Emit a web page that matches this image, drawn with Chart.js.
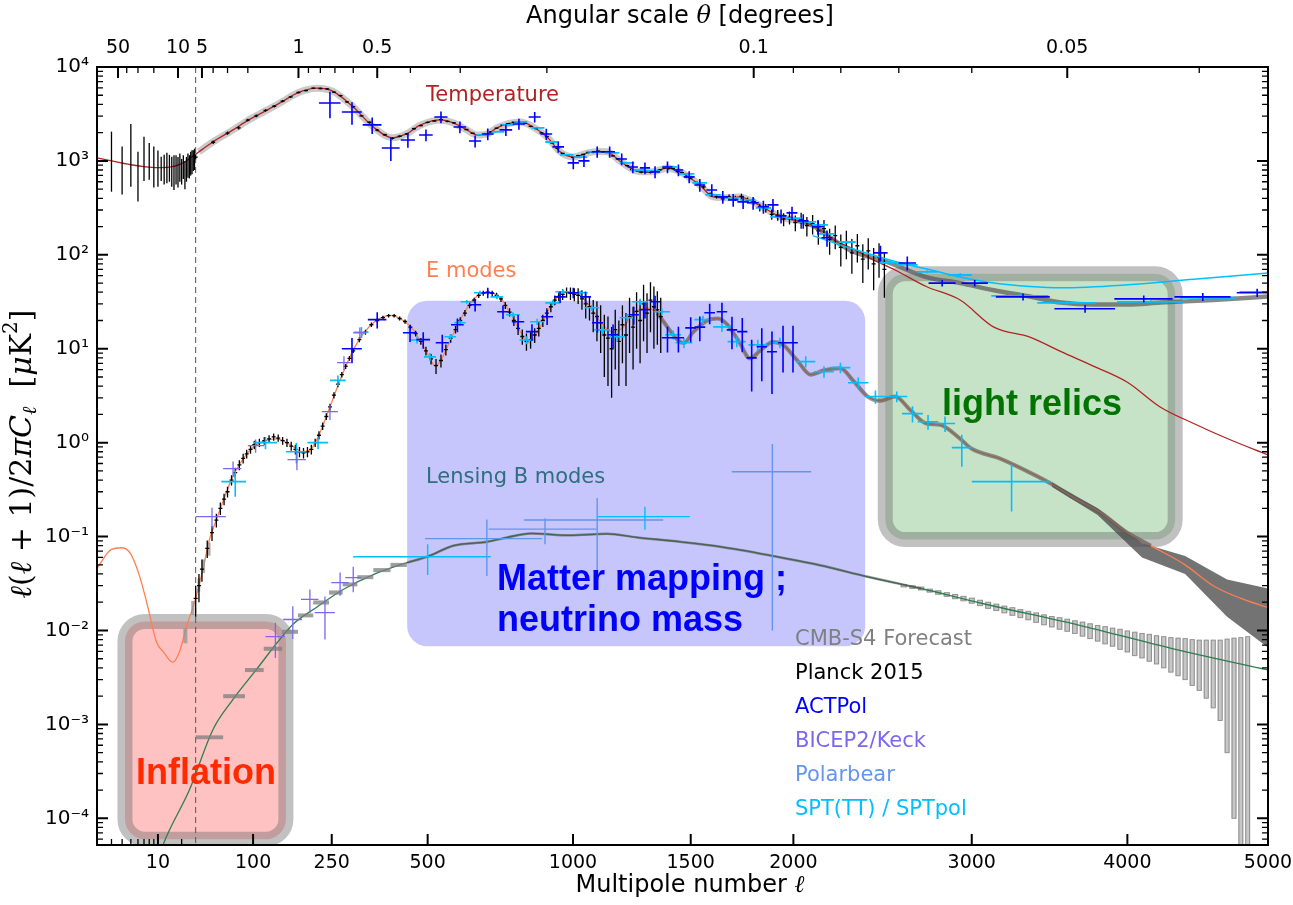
<!DOCTYPE html>
<html>
<head>
<meta charset="utf-8">
<title>CMB power spectra</title>
<script src="https://cdn.jsdelivr.net/npm/chart.js@4.4.1/dist/chart.umd.min.js"></script>
<style>
  html, body { margin: 0; padding: 0; background: #fff; }
  #wrap { width: 1293px; height: 905px; }
</style>
</head>
<body>
<div id="wrap"><canvas id="cmbChart" width="1293" height="905"></canvas></div>
<script>
// ---------- theory spectra: multipole ell, D_ell [uK^2] ----------
const ttEll = [2, 3, 5, 7, 10, 14, 19, 25, 33, 45, 67, 90, 123, 150, 169, 190, 218, 253, 300, 350,
  400, 440, 478, 538, 578, 620, 654, 690, 721, 760, 804, 849, 901, 950, 1001, 1057, 1100, 1136, 1189, 1230,
  1275, 1331, 1395, 1452, 1500, 1542, 1604, 1673, 1732, 1797, 1870, 1931, 2000, 2075, 2139, 2210, 2320, 2420, 2550, 2730,
  2930, 3135, 3360, 3560, 3775, 4000, 4225, 4460, 4705, 5000];
const ttD = [1080, 1000, 910, 870, 850, 860, 920, 1050, 1250, 1600, 2140, 2700, 3490, 4300, 5000, 5600, 5950, 5500, 3750, 2300,
  1760, 1950, 2400, 2730, 2540, 2150, 1890, 1950, 2245, 2500, 2600, 2300, 1800, 1250, 1100, 1215, 1260, 1250, 1000, 850,
  765, 765, 843, 765, 650, 555, 414, 405, 414, 366, 300, 254, 235, 215, 185, 145, 115, 90, 69, 46,
  33, 17, 13.3, 9.3, 6.5, 4.4, 2.4, 1.6, 1.1, 0.74];

const eeEll = [2, 3, 4, 5, 6.3, 7.7, 9.7, 11.6, 15.5, 19, 23, 28, 33, 37, 42, 48, 55, 67, 89, 111,
  140, 164, 189, 205, 224, 246, 276, 310, 350, 394, 430, 459, 498, 522, 540, 559, 599, 641, 688, 732,
  767, 804, 831, 875, 922, 976, 1028, 1068, 1108, 1161, 1204, 1248, 1306, 1350, 1395, 1441, 1469, 1511, 1577, 1625,
  1673, 1732, 1781, 1831, 1896, 1947, 2020, 2089, 2160, 2248, 2316, 2397, 2468, 2550, 2640, 2730, 2810, 2930, 3000, 3170,
  3360, 3490, 3640, 3820, 4000, 4160, 4400, 4600, 4800, 5000];
const eeD = [0.046, 0.073, 0.076, 0.065, 0.037, 0.018, 0.0074, 0.006, 0.0046, 0.0061, 0.011, 0.018, 0.03, 0.047, 0.095, 0.15, 0.24, 0.44, 0.77, 1.0,
  1.1, 0.95, 0.8, 0.85, 1.27, 2.4, 5.6, 11.6, 18.9, 22.7, 20, 15.8, 9.1, 6.6, 7.5, 10.4, 20, 33, 40, 35,
  24, 15, 11.5, 17, 31, 40, 37, 28, 19.5, 15, 17, 24, 27, 24, 17, 12.4, 11.5, 15, 20, 21,
  18, 11.5, 7.9, 9.5, 11.8, 11, 7.5, 5.3, 5.9, 6.2, 4.6, 3.1, 2.8, 3.1, 2.2, 1.6, 1.55, 1.1, 0.86, 0.68,
  0.48, 0.37, 0.26, 0.18, 0.11, 0.08, 0.05, 0.03, 0.022, 0.0176];

const bbEll = [10, 11.6, 25, 45, 67, 106, 140, 169, 218, 276, 350, 441, 498, 578, 688, 757, 840, 988, 1136, 1262,
  1452, 1637, 1882, 2139, 2397, 2700, 3058, 3687, 4370, 5000];
const bbD = [3.5e-5, 5.2e-5, 2.0e-4, 8.9e-4, 1.85e-3, 3.9e-3, 7.4e-3, 0.0116, 0.0178, 0.0273, 0.0394, 0.0528, 0.061, 0.08, 0.088, 0.098, 0.108, 0.103, 0.107, 0.098,
  0.088, 0.078, 0.063, 0.0495, 0.0373, 0.028, 0.0195, 0.0113, 0.0061, 0.0038];

// ---------- CMB-S4 forecast ----------
const s4TTEll = [2300, 2520, 2730, 2930, 3135, 3360, 3560, 3775, 4000, 4225, 4600, 5000];
const s4TTD = [112, 82, 58, 50, 42, 36, 31, 29.5, 29.5, 31, 33, 36];
const s4EEBandEll = [3500, 3800, 4100, 4400, 4700, 5000];
const s4EEBandHi = [0.38, 0.2, 0.085, 0.062, 0.035, 0.028];
const s4EEBandLo = [0.34, 0.17, 0.06, 0.04, 0.014, 0.0066];
const s4EELowEll = [22.3, 27.7, 33, 37, 41.4];
const s4EELowD = [0.0089, 0.0176, 0.031, 0.049, 0.0745];
const s4EELowErr = [0.0016, 0.003, 0.005, 0.008, 0.012];
const s4BBLowLo = [30, 55, 85, 117, 149, 179, 210, 244, 275, 310, 350, 395];
const s4BBLowHi = [55, 85, 117, 149, 179, 210, 244, 275, 310, 350, 395, 440];
const s4BBLowD = [7.3e-4, 0.002, 0.0038, 0.0064, 0.0097, 0.0145, 0.0199, 0.0254, 0.031, 0.037, 0.044, 0.05];
const s4BBLowErr = [3.5e-5, 1e-4, 1.9e-4, 3.2e-4, 4.8e-4, 7e-4, 1e-3, 1.3e-3, 1.5e-3, 1.8e-3, 2.2e-3, 2.5e-3];
const s4BBHighEll = [2600, 2650, 2700, 2750, 2800, 2850, 2900, 2950, 3000, 3050,
  3100, 3150, 3200, 3250, 3300, 3350, 3400, 3450, 3500, 3550,
  3600, 3650, 3700, 3750, 3800, 3850, 3900, 3950, 4000, 4050,
  4100, 4150, 4200, 4250, 4300, 4350, 4400, 4450, 4500, 4550,
  4600, 4650, 4700, 4750, 4800, 4850];
const s4BBHighD = [0.030, 0.029, 0.028, 0.0266, 0.0254, 0.0242, 0.023, 0.0219, 0.0208, 0.0197,
  0.0186, 0.0177, 0.0168, 0.016, 0.0152, 0.0145, 0.0138, 0.0131, 0.0125, 0.012,
  0.0115, 0.011, 0.0105, 0.01, 0.0095, 0.0091, 0.0087, 0.0083, 0.0079, 0.0075,
  0.0072, 0.0069, 0.0066, 0.0063, 0.006, 0.0058, 0.0056, 0.0053, 0.0051, 0.0049,
  0.0047, 0.0045, 0.0043, 0.0042, 0.004, 0.0039];
const s4BBHighErr = [0.0009, 0.0009, 0.001, 0.001, 0.0011, 0.0011, 0.0012, 0.0012, 0.0013, 0.0013,
  0.0014, 0.0014, 0.0014, 0.0015, 0.0015, 0.0015, 0.0016, 0.0016, 0.0016, 0.0017,
  0.0017, 0.0017, 0.0018, 0.0018, 0.0018, 0.0019, 0.0019, 0.002, 0.002, 0.0021,
  0.0021, 0.0022, 0.0022, 0.0023, 0.0024, 0.0025, 0.0026, 0.0027, 0.0028, 0.003,
  0.0032, 0.0034, 0.0038, 0.0041, 0.0044, 0.0047];

// ---------- Planck 2015 ----------
const planckLowEll = [3, 4, 5, 6, 7, 8, 9, 10, 11, 12, 13, 14, 15, 16, 17, 18, 19, 20, 21, 22, 23, 24, 25, 26, 27, 28, 29];
const planckLowD = [1260, 930, 1500, 810, 1210, 1090, 970, 910, 860, 860, 900, 880, 820, 820, 855, 810, 900, 805, 895, 750, 850, 930, 900, 975, 1010, 1040, 1075];
const planckLowErr = [790, 490, 970, 440, 600, 460, 450, 380, 250, 300, 320, 280, 290, 330, 295, 290, 300, 245, 255, 250, 250, 270, 250, 275, 290, 260, 275];

const planckTTEll = [30, 45, 60, 75, 90, 105, 120, 135, 150, 165,
  180, 195, 210, 225, 240, 255, 270, 285, 300, 320,
  340, 360, 380, 400, 420, 440, 460, 480, 500, 520,
  540, 560, 580, 600, 620, 640, 660, 680, 700, 720,
  740, 760, 780, 800, 820, 840, 860, 880, 900, 920,
  940, 960, 980, 1000, 1020, 1040, 1060, 1080, 1100, 1120,
  1140, 1160, 1180, 1200, 1220, 1240, 1260, 1280, 1300, 1320,
  1340, 1360, 1380, 1400, 1420, 1440, 1460, 1480, 1500, 1530,
  1560, 1590, 1620, 1650, 1680, 1710, 1740, 1770, 1800, 1830,
  1860, 1890, 1920, 1950, 1980, 2010, 2040, 2070, 2100, 2130,
  2160, 2190, 2220, 2250, 2280, 2310, 2340, 2370, 2400, 2430,
  2460, 2490];
const planckTTD = [1100, 1580, 1980, 2250, 2720, 3020, 3450, 3820, 4330, 4800,
  5350, 5600, 5950, 5900, 5850, 5400, 4950, 4250, 3780, 3020,
  2580, 2130, 1900, 1740, 1830, 1940, 2200, 2380, 2570, 2660,
  2750, 2640, 2540, 2310, 2160, 1970, 1900, 1910, 2040, 2230,
  2410, 2490, 2580, 2590, 2520, 2330, 2210, 1990, 1810, 1550,
  1360, 1200, 1150, 1090, 1140, 1170, 1230, 1230, 1270, 1250,
  1250, 1130, 1050, 950, 890, 810, 790, 760, 765, 755,
  790, 800, 845, 830, 830, 770, 750, 680, 660, 580,
  530, 440, 420, 395, 415, 400, 420, 380, 370, 320,
  315, 270, 265, 240, 250, 220, 235, 205, 215, 180,
  190, 145, 160, 120, 135, 105, 125, 90, 110, 80,
  95, 70];
const planckTTErr = [60, 70, 80, 85, 95, 100, 110, 115, 120, 125,
  130, 130, 135, 135, 130, 125, 115, 105, 95, 70,
  60, 55, 50, 45, 45, 48, 50, 52, 55, 55,
  55, 52, 50, 45, 42, 40, 38, 38, 40, 42,
  45, 45, 45, 45, 45, 42, 40, 36, 33, 30,
  27, 25, 24, 23, 24, 24, 25, 25, 26, 26,
  26, 24, 23, 21, 20, 19, 19, 19, 19, 19,
  20, 21, 22, 22, 22, 22, 22, 21, 21, 22,
  22, 22, 22, 23, 24, 25, 27, 28, 30, 30,
  32, 33, 35, 38, 40, 42, 45, 48, 50, 52,
  45, 45, 45, 45, 45, 42, 42, 40, 40, 38,
  38, 35];

const planckEEEll = [30, 33, 36, 40, 44, 48, 52, 56, 60, 65,
  70, 76, 82, 88, 95, 102, 110, 118, 126, 134,
  142, 150, 158, 166, 174, 182, 190, 198, 206, 214,
  222, 230, 238, 246, 255, 264, 273, 282, 291, 300,
  315, 330, 345, 360, 375, 390, 405, 420, 435, 450,
  465, 480, 495, 510, 525, 540, 555, 570, 585, 600,
  615, 630, 645, 660, 675, 690, 705, 720, 735, 750,
  765, 780, 795, 810, 825, 840, 855, 870, 885, 900,
  915, 930, 945, 960, 975, 990, 1005, 1020, 1035, 1050,
  1065, 1080, 1095, 1110, 1125, 1140, 1155, 1170, 1185, 1200,
  1215, 1230, 1245, 1260, 1275, 1290, 1305, 1320, 1335, 1350,
  1365];
const planckEED = [0.022, 0.03, 0.045, 0.075, 0.11, 0.15, 0.2, 0.25, 0.3, 0.4,
  0.48, 0.58, 0.68, 0.76, 0.85, 0.95, 1.0, 1.05, 1.1, 1.15,
  1.12, 1.05, 1.0, 0.92, 0.85, 0.8, 0.78, 0.8, 0.85, 1.0,
  1.2, 1.5, 1.9, 2.4, 3.2, 4.2, 5.3, 6.5, 7.9, 9.5,
  12.5, 15, 18, 20, 21.5, 22.5, 22.5, 21, 19.5, 17,
  14.5, 12, 9.5, 7.8, 6.6, 7.5, 9.8, 13, 16, 20,
  24, 29, 33, 37, 39, 40, 39, 37, 34, 29,
  24.5, 20, 16.5, 13.5, 12, 12.5, 14, 16.5, 20, 24,
  28, 33, 36, 38, 40, 39, 38, 37, 34, 30,
  28, 24, 22, 19, 14, 13, 10, 16, 12, 18,
  14, 22, 17, 25, 20, 30, 24, 33, 28, 26,
  22];
const planckEEErr = [0.008, 0.01, 0.012, 0.016, 0.02, 0.025, 0.03, 0.035, 0.04, 0.05,
  0.06, 0.07, 0.08, 0.08, 0.09, 0.1, 0.1, 0.1, 0.1, 0.1,
  0.1, 0.1, 0.1, 0.1, 0.1, 0.1, 0.1, 0.1, 0.1, 0.1,
  0.12, 0.14, 0.16, 0.2, 0.25, 0.3, 0.35, 0.4, 0.45, 0.5,
  0.8, 0.9, 1, 1, 1, 1, 1, 1, 1, 1,
  1, 1, 1, 1, 1.2, 1.2, 1.3, 1.4, 1.5, 1.6,
  1.8, 2, 2, 2.2, 2.4, 2.5, 2.5, 2.5, 2.5, 2.5,
  2.5, 2.5, 2.5, 2.5, 2.5, 2.5, 2.5, 3, 3, 3,
  3.5, 4, 4, 5, 5, 6, 6, 7, 8, 9,
  8, 9, 10, 10, 9, 9, 7, 10, 8, 11,
  10, 13, 11, 15, 13, 18, 15, 18, 18, 15,
  13];

// ---------- ACTPol ----------
const actTTEll = [246, 297, 347, 396, 443, 495, 540, 599, 648, 690,
  752, 798, 855, 898, 943, 1001, 1043, 1096, 1147, 1197,
  1244, 1296, 1340, 1395, 1444, 1493, 1542, 1598, 1650, 1700,
  1748, 1797, 1848, 1896, 1937, 1993, 2051, 2128, 2176, 2468,
  2620, 2823, 3018, 3317, 3717, 4112, 4525, 4920];
const actTTD = [4140, 3320, 2420, 1375, 1670, 1890, 2940, 2300, 1630, 1935,
  2140, 2475, 2940, 1935, 1410, 953, 1000, 1250, 1250, 1050,
  863, 843, 765, 863, 800, 677, 555, 490, 414, 385,
  366, 358, 325, 340, 260, 280, 230, 199, 152, 105,
  82, 50, 50, 35.7, 26.7, 34, 35.7, 39.5];
const actTTDl = [24, 24, 24, 24, 20, 20, 20, 20, 20, 20,
  22, 22, 22, 22, 22, 22, 22, 22, 22, 22,
  22, 22, 22, 22, 22, 25, 25, 25, 25, 25,
  28, 28, 28, 28, 28, 28, 28, 30, 30, 40,
  50, 80, 80, 170, 200, 200, 200, 150];
const actTTErr = [1300, 900, 480, 380, 290, 270, 420, 330, 240, 280,
  300, 330, 380, 260, 190, 140, 140, 170, 170, 150,
  125, 120, 110, 125, 115, 100, 85, 75, 65, 60,
  58, 56, 52, 54, 44, 46, 40, 35, 30, 20,
  14, 4, 4, 3, 2.5, 3, 3.5, 4];

const actEEEll = [297, 360, 449, 487, 544, 591, 648, 690, 742, 795,
  845, 901, 950, 1001, 1049, 1097, 1161, 1248, 1296, 1340,
  1395, 1444, 1500, 1542, 1588, 1646, 1694, 1744, 1790, 1840,
  1891, 1947, 1998];
const actEED = [10, 20.4, 14.8, 12.5, 11.6, 18, 29.4, 39.5, 24.8, 19.4,
  15.2, 21.9, 35.7, 39.5, 35.7, 18.9, 14.1, 23, 26, 31.6,
  13.1, 13.1, 16.7, 17, 24.2, 24.8, 15.9, 15.2, 8.0, 10.5,
  9.3, 11.6, 11.6];
const actEEDl = [24, 24, 20, 20, 20, 20, 20, 20, 20, 22,
  22, 22, 22, 22, 22, 22, 22, 22, 22, 22,
  25, 25, 25, 25, 25, 25, 25, 25, 25, 25,
  25, 25, 25];
const actEEErr = [3, 4, 3, 2.5, 2.5, 3, 4.5, 5, 4, 3.5,
  3, 4, 5, 5, 5, 4, 4, 5, 5, 5,
  4, 4, 5, 5, 6, 6, 6, 6, 4.5, 6,
  6, 6, 6];

// ---------- BICEP2/Keck ----------
const bkEEEll = [44, 67, 104, 177, 246, 278, 316];
const bkEED = [0.163, 0.53, 0.93, 0.66, 2.14, 7.1, 14.8];
const bkEEDl = [14, 12, 14, 18, 18, 16, 16];
const bkEEErr = [0.04, 0.1, 0.15, 0.15, 0.4, 1.2, 2];
const bkBBEll = [137, 169, 203, 235, 269, 300];
const bkBBD = [0.0086, 0.0131, 0.0214, 0.0155, 0.0324, 0.0366];
const bkBBDl = [17, 18, 18, 22, 20, 19];
const bkBBErr = [0.0035, 0.005, 0.006, 0.0075, 0.009, 0.011];

// ---------- Polarbear ----------
const pbBBEll = [687, 893, 1096, 1893];
const pbBBD = [0.095, 0.12, 0.15, 0.49];
const pbBBDl = [195, 200, 280, 200];
const pbBBErr = [0.057, 0.037, 0.108, 0.48];

// ---------- SPT / SPTpol ----------
const sptTTEll = [674, 725, 760, 804, 867, 920, 976, 1028, 1085, 1157,
  1220, 1266, 1331, 1405, 1483, 1542, 1604, 1694, 1770, 1848,
  1922, 2000, 2077, 2139, 2176, 2285, 2522, 2620, 2736, 2930,
  3299, 3597, 4160, 4565, 4920];
const sptTTD = [1890, 2040, 2420, 2600, 2245, 1590, 1160, 1100, 1250, 1215,
  953, 800, 783, 863, 728, 584, 435, 404, 385, 316,
  254, 246, 224, 208, 167, 137, 82, 78, 66, 61,
  36.6, 30.8, 31.6, 34.9, 40.4];
const sptTTDl = [22, 22, 22, 24, 24, 26, 26, 28, 28, 30,
  30, 30, 32, 32, 34, 34, 36, 36, 38, 38,
  40, 40, 42, 42, 44, 46, 60, 60, 60, 70,
  180, 190, 230, 200, 130];
const sptTTErr = [40, 40, 45, 45, 40, 30, 22, 20, 22, 22,
  18, 15, 15, 16, 14, 11, 9, 8, 8, 7,
  6, 6, 5, 5, 4, 4, 3, 3, 2.5, 2.5,
  1.5, 1.2, 1.3, 1.5, 2];
const sptModelEll = [2100, 2300, 2550, 2800, 2930, 3135, 3360, 3560, 4000, 4460, 5000];
const sptModelD = [160, 118, 85, 66, 58, 50, 46, 44.6, 48, 55, 64];

const sptEEEll = [70, 120, 176, 220, 264, 320, 469, 507, 569, 599,
  621, 664, 721, 777, 826, 864, 922, 960, 1028, 1075,
  1116, 1178, 1220, 1275, 1370, 1420, 1469, 1557, 1646, 1717,
  1820, 1931, 2064, 2160, 2248, 2345, 2440, 2560, 2650, 2740,
  2840, 2940, 3245];
const sptEED = [0.385, 1.0, 0.8, 1.0, 4.6, 15, 12.4, 8.2, 13.4, 18.9,
  31.6, 39.5, 35.7, 23, 12.4, 19.4, 30.8, 40.4, 39.5, 27.3,
  15.9, 13.4, 21.4, 31.6, 24.8, 14.1, 11.6, 20.4, 17.1, 11.9,
  11, 11.6, 7.3, 5.7, 6.3, 4.35, 3.1, 3.1, 2.04, 1.67,
  1.6, 0.885, 0.385];
const sptEEDl = [17, 20, 20, 22, 18, 18, 18, 18, 18, 18,
  20, 20, 22, 24, 26, 26, 28, 28, 30, 30,
  32, 32, 32, 34, 36, 36, 38, 40, 42, 44,
  46, 48, 50, 52, 54, 56, 58, 60, 60, 60,
  60, 60, 245];
const sptEEErr = [0.12, 0.15, 0.2, 0.15, 0.6, 2, 1, 0.8, 1, 1.2,
  1.5, 2, 2, 1.5, 1.2, 1.5, 2, 2, 2, 2,
  1.5, 1.5, 2, 2.5, 2, 1.5, 1.5, 2, 2, 1.5,
  1.5, 1.5, 1, 0.8, 0.8, 0.6, 0.5, 0.4, 0.4, 0.3,
  0.3, 0.33, 0.2];
const sptBBEll = [500, 1296];
const sptBBD = [0.061, 0.163];
const sptBBDl = [200, 200];
const sptBBErr = [0.022, 0.045];

// ---------- science regions: [ell range], [D range] ----------
const inflationEll = [4.3, 156], inflationD = [6.0e-5, 0.0125];
const matterEll = [441, 2383], matterD = [0.0068, 32.4];
const relicsEll = [2495, 4330], relicsD = [0.093, 62.8];
const lowEllCut = 30;

// ---------- axis ticks ----------
const bottomTickEll = [10, 100, 250, 500, 1000, 1500, 2000, 3000, 4000, 5000];
const bottomMinorEll = [3, 4, 5, 6, 7, 8, 9, 20];
const topTickTheta = [50, 10, 5, 1, 0.5, 0.1, 0.05];
const topMinorTheta = [40, 30, 20, 4, 3, 2, 0.9, 0.8, 0.7, 0.6, 0.4, 0.3, 0.2, 0.09, 0.08, 0.07, 0.06, 0.04];
const yTickVals = [1e-4, 1e-3, 1e-2, 1e-1, 1, 10, 100, 1e3, 1e4];

// ---------- the stretched multipole axis ----------
// log-like below ell = 100, ell^0.6 above
const lowEll = [2, 3.6, 10, 18, 36, 100];
const lowU = [-7.2, -4.1, 1.8, 4.76, 8.3, 15.85];
function ellToU(l) {
  if (l >= 100) return Math.pow(l, 0.6);
  let i = 0;
  while (i < lowEll.length - 2 && l > lowEll[i + 1]) i++;
  const a = Math.log10(lowEll[i]), b = Math.log10(lowEll[i + 1]);
  return lowU[i] + (Math.log10(l) - a) / (b - a) * (lowU[i + 1] - lowU[i]);
}

function pts(ell, d) {
  return ell.map((l, i) => ({ x: ellToU(l), y: d[i] }));
}
function errPts(ell, d, dl, dd) {
  return ell.map((l, i) => {
    const w = Array.isArray(dl) ? dl[i] : dl;
    return {
      x: ellToU(l), y: d[i],
      xMin: ellToU(Math.max(l - w, 1.5)), xMax: ellToU(l + w),
      yMin: d[i] - dd[i], yMax: d[i] + dd[i]
    };
  });
}
function binPts(lo, hi, d, dd) {
  return lo.map((l, i) => {
    const c = Math.sqrt(l * hi[i]);
    return { x: ellToU(c), y: d[i], xMin: ellToU(l), xMax: ellToU(hi[i]), yMin: d[i] - dd[i], yMax: d[i] + dd[i] };
  });
}
function pick(ell, d, lo, hi) {
  const e = [], v = [];
  ell.forEach((l, i) => { if (l >= lo && l <= hi) { e.push(l); v.push(d[i]); } });
  return { e, v };
}

const s4TTLow = pick(ttEll, ttD, 30, 2000);
const s4TTHighBase = pick(ttEll, ttD, 2000, 2299);
const s4EELine = pick(eeEll, eeD, 1350, 4160);
const s4BBLine = pick(bbEll, bbD, 441, 2700);

function lineSet(label, data, color, width, order, extra) {
  return Object.assign({
    label, data, borderColor: color, borderWidth: width, pointRadius: 0, pointHitRadius: 0,
    fill: false, cubicInterpolationMode: 'monotone', order
  }, extra || {});
}
function errSet(label, data, bars, order) {
  return { label, data, showLine: false, pointRadius: 0, pointHitRadius: 0, errorBars: bars, order };
}

const datasets = [
  errSet('S4 BB forecast', errPts(s4BBHighEll, s4BBHighD, 18, s4BBHighErr),
    { style: 'bar', color: 'rgba(120,120,120,0.75)', fill: 'rgba(175,175,175,0.7)', width: 1 }, 95),
  lineSet('S4 EE band hi', pts(s4EEBandEll, s4EEBandHi), 'rgba(0,0,0,0)', 0, 94, { cubicInterpolationMode: 'default', tension: 0 }),
  lineSet('S4 EE band lo', pts(s4EEBandEll, s4EEBandLo), 'rgba(0,0,0,0)', 0, 94,
    { cubicInterpolationMode: 'default', tension: 0, fill: '-1', backgroundColor: 'rgba(75,75,75,0.78)' }),
  lineSet('S4 TT low', pts(s4TTLow.e, s4TTLow.v), 'rgba(150,150,150,0.5)', 7, 86),
  lineSet('S4 TT', pts(s4TTHighBase.e.concat(s4TTEll), s4TTHighBase.v.concat(s4TTD)), 'rgba(85,85,85,0.7)', 4.5, 85),
  lineSet('TT theory', pts(ttEll, ttD), '#b22222', 1.3, 80),
  lineSet('EE theory', pts(eeEll, eeD), '#ff7f50', 1.3, 80),
  lineSet('BB theory', pts(bbEll, bbD), '#2f7d4f', 1.3, 80),
  lineSet('S4 EE', pts(s4EELine.e, s4EELine.v), 'rgba(85,85,85,0.62)', 4, 75),
  lineSet('S4 BB', pts(s4BBLine.e, s4BBLine.v), 'rgba(85,85,85,0.6)', 2.5, 75),
  errSet('S4 EE low', errPts(s4EELowEll, s4EELowD, 1.3, s4EELowErr),
    { style: 'block', fill: 'rgba(150,150,150,0.8)' }, 70),
  errSet('S4 BB low', binPts(s4BBLowLo, s4BBLowHi, s4BBLowD, s4BBLowErr),
    { style: 'block', fill: 'rgba(125,125,125,0.75)' }, 70),
  errSet('Planck low TT', errPts(planckLowEll, planckLowD, 0, planckLowErr), { style: 'vline', color: '#000', width: 1.3 }, 60),
  errSet('Planck TT', errPts(planckTTEll, planckTTD, 0, planckTTErr), { style: 'planck', color: '#000', width: 1.3 }, 60),
  errSet('Planck EE', errPts(planckEEEll, planckEED, 0, planckEEErr), { style: 'planck', color: '#000', width: 1.3 }, 60),
  lineSet('SPT model', pts(sptModelEll, sptModelD), '#00bfff', 1.5, 50),
  errSet('SPT TT', errPts(sptTTEll, sptTTD, sptTTDl, sptTTErr), { style: 'cross', color: '#00bfff', width: 1.8 }, 50),
  errSet('SPTpol EE', errPts(sptEEEll, sptEED, sptEEDl, sptEEErr), { style: 'cross', color: '#00bfff', width: 1.6 }, 50),
  errSet('SPTpol BB', errPts(sptBBEll, sptBBD, sptBBDl, sptBBErr), { style: 'cross', color: '#00bfff', width: 1.4 }, 50),
  errSet('BICEP2/Keck EE', errPts(bkEEEll, bkEED, bkEEDl, bkEEErr), { style: 'cross', color: '#7b68ee', width: 1.3 }, 45),
  errSet('BICEP2/Keck BB', errPts(bkBBEll, bkBBD, bkBBDl, bkBBErr), { style: 'cross', color: '#7b68ee', width: 1.3 }, 45),
  errSet('Polarbear BB', errPts(pbBBEll, pbBBD, pbBBDl, pbBBErr), { style: 'cross', color: '#6495ed', width: 1.4 }, 42),
  errSet('ACTPol TT', errPts(actTTEll, actTTD, actTTDl, actTTErr), { style: 'cross', color: '#0000ff', width: 1.6 }, 40),
  errSet('ACTPol EE', errPts(actEEEll, actEED, actEEDl, actEEErr), { style: 'cross', color: '#0000ff', width: 1.6 }, 40)
];

// ---------- plugins ----------
const errorBarPlugin = {
  id: 'errorBars',
  afterDatasetDraw(chart, args) {
    const ds = chart.data.datasets[args.index];
    const eb = ds.errorBars;
    if (!eb) return;
    const { ctx, chartArea: a } = chart;
    const xs = chart.scales.x, ys = chart.scales.y;
    ctx.save();
    ctx.beginPath();
    ctx.rect(a.left, a.top, a.right - a.left, a.bottom - a.top);
    ctx.clip();
    ctx.lineWidth = eb.width || 1;
    ctx.strokeStyle = eb.color || '#000';
    ctx.fillStyle = eb.fill || eb.color;
    for (const p of ds.data) {
      const px = xs.getPixelForValue(p.x), py = ys.getPixelForValue(p.y);
      const top = ys.getPixelForValue(p.yMax);
      const bot = p.yMin > 0 ? ys.getPixelForValue(p.yMin) : a.bottom + 2;
      if (eb.style === 'bar' || eb.style === 'block') {
        const l = xs.getPixelForValue(p.xMin), r = xs.getPixelForValue(p.xMax);
        ctx.fillRect(l, top, r - l, bot - top);
        if (eb.style === 'bar') ctx.strokeRect(l + 0.5, top, r - l - 1, bot - top);
        continue;
      }
      ctx.beginPath();
      ctx.moveTo(px, top);
      ctx.lineTo(px, bot);
      if (eb.style === 'cross') {
        ctx.moveTo(xs.getPixelForValue(p.xMin), py);
        ctx.lineTo(xs.getPixelForValue(p.xMax), py);
      } else if (eb.style === 'planck') {
        ctx.moveTo(px - 2, py);
        ctx.lineTo(px + 2, py);
      }
      ctx.stroke();
    }
    ctx.restore();
  }
};

function roundedRect(ctx, x, y, w, h, r) {
  ctx.beginPath();
  ctx.moveTo(x + r, y);
  ctx.arcTo(x + w, y, x + w, y + h, r);
  ctx.arcTo(x + w, y + h, x, y + h, r);
  ctx.arcTo(x, y + h, x, y, r);
  ctx.arcTo(x, y, x + w, y, r);
  ctx.closePath();
}

const regionPlugin = {
  id: 'regions',
  beforeDatasetsDraw(chart) {
    const { ctx, chartArea: a } = chart;
    const xs = chart.scales.x, ys = chart.scales.y;
    const boxes = [
      { ell: inflationEll, d: inflationD, fill: 'rgba(255,0,0,0.24)', ring: 'rgba(100,100,100,0.4)' },
      { ell: matterEll, d: matterD, fill: 'rgba(100,100,250,0.37)', ring: null },
      { ell: relicsEll, d: relicsD, fill: 'rgba(0,128,0,0.22)', ring: 'rgba(100,100,100,0.4)' }
    ];
    ctx.save();
    ctx.beginPath();
    ctx.rect(a.left, a.top, a.right - a.left, a.bottom - a.top);
    ctx.clip();
    for (const b of boxes) {
      const l = xs.getPixelForValue(ellToU(b.ell[0])), r = xs.getPixelForValue(ellToU(b.ell[1]));
      const t = ys.getPixelForValue(b.d[1]), btm = ys.getPixelForValue(b.d[0]);
      roundedRect(ctx, l, t, r - l, btm - t, 20);
      ctx.fillStyle = b.fill;
      ctx.fill();
      if (b.ring) {
        ctx.lineWidth = 15;
        ctx.strokeStyle = b.ring;
        ctx.stroke();
      }
    }
    const cx = xs.getPixelForValue(ellToU(lowEllCut));
    ctx.setLineDash([6, 4]);
    ctx.lineWidth = 1;
    ctx.strokeStyle = '#555';
    ctx.beginPath();
    ctx.moveTo(cx, a.top);
    ctx.lineTo(cx, a.bottom);
    ctx.stroke();
    ctx.restore();
  }
};

function drawRich(ctx, parts, x, y) {
  let w = 0;
  parts.forEach(p => { ctx.font = p.font; w += ctx.measureText(p.text).width; });
  let cx = x - w / 2;
  parts.forEach(p => {
    ctx.font = p.font;
    ctx.fillText(p.text, cx, y + (p.dy || 0));
    cx += ctx.measureText(p.text).width;
  });
}

const textPlugin = {
  id: 'texts',
  afterDatasetsDraw(chart) {
    const ctx = chart.ctx;
    ctx.save();
    ctx.textBaseline = 'middle';
    ctx.textAlign = 'left';
    ctx.font = '21px "DejaVu Sans"';
    ctx.fillStyle = '#b22222';
    ctx.fillText('Temperature', 426, 96);
    ctx.fillStyle = '#ff7f50';
    ctx.fillText('E modes', 426, 272);
    ctx.fillStyle = '#2f6e7e';
    ctx.fillText('Lensing B modes', 426, 478);

    ctx.font = 'bold 36px "Liberation Sans"';
    ctx.fillStyle = '#0000ff';
    ctx.fillText('Matter mapping ;', 497, 580);
    ctx.fillText('neutrino mass', 497, 621);
    ctx.fillStyle = '#007300';
    ctx.fillText('light relics', 942, 405);
    ctx.fillStyle = '#ff2a00';
    ctx.fillText('Inflation', 136, 774);

    const legendRows = [
      ['CMB-S4 Forecast', '#808080'], ['Planck 2015', '#000000'], ['ACTPol', '#0000ff'],
      ['BICEP2/Keck', '#7b68ee'], ['Polarbear', '#6495ed'], ['SPT(TT) / SPTpol', '#00bfff']
    ];
    ctx.font = '21px "DejaVu Sans"';
    legendRows.forEach((row, i) => {
      ctx.fillStyle = row[1];
      ctx.fillText(row[0], 795, 640 + i * 34);
    });
    ctx.restore();
  }
};

const framePlugin = {
  id: 'frame',
  afterDraw(chart) {
    const { ctx, chartArea: a } = chart;
    const xs = chart.scales.x, ys = chart.scales.y;
    ctx.save();
    ctx.strokeStyle = '#000';
    function xTick(px, len, w, fromTop) {
      ctx.lineWidth = w;
      ctx.beginPath();
      if (fromTop) { ctx.moveTo(px, a.top); ctx.lineTo(px, a.top + len); }
      else { ctx.moveTo(px, a.bottom); ctx.lineTo(px, a.bottom - len); }
      ctx.stroke();
    }
    function yTick(py, len, w) {
      ctx.lineWidth = w;
      ctx.beginPath();
      ctx.moveTo(a.left, py); ctx.lineTo(a.left + len, py);
      ctx.moveTo(a.right, py); ctx.lineTo(a.right - len, py);
      ctx.stroke();
    }
    bottomTickEll.forEach(l => xTick(xs.getPixelForValue(ellToU(l)), 11, 2, false));
    bottomMinorEll.forEach(l => xTick(xs.getPixelForValue(ellToU(l)), 6, 1.3, false));
    topTickTheta.forEach(t => xTick(xs.getPixelForValue(ellToU(180 / t)), 11, 2, true));
    topMinorTheta.forEach(t => xTick(xs.getPixelForValue(ellToU(180 / t)), 6, 1.3, true));
    for (let e = -5; e <= 4; e++) {
      const v = Math.pow(10, e);
      if (v >= ys.min && v <= ys.max) yTick(ys.getPixelForValue(v), 11, 2);
      for (let m = 2; m <= 9; m++) {
        const vm = m * v;
        if (vm >= ys.min && vm <= ys.max) yTick(ys.getPixelForValue(vm), 6, 1.3);
      }
    }
    ctx.lineWidth = 2;
    ctx.strokeRect(a.left, a.top, a.right - a.left, a.bottom - a.top);

    // axis titles
    ctx.fillStyle = '#000';
    ctx.textBaseline = 'middle';
    ctx.textAlign = 'left';
    const sans = '24px "DejaVu Sans"', math = 'italic 24px "DejaVu Serif"';
    drawRich(ctx, [{ text: 'Multipole number ', font: sans }, { text: 'ℓ', font: math }], 690, 886);
    drawRich(ctx, [{ text: 'Angular scale ', font: sans }, { text: 'θ', font: math }, { text: ' [degrees]', font: sans }], 680, 17);
    ctx.translate(23, 454);
    ctx.rotate(-Math.PI / 2);
    const rm = '30px "DejaVu Serif"', it = 'italic 30px "DejaVu Serif"';
    drawRich(ctx, [
      { text: 'ℓ', font: it }, { text: '(', font: rm }, { text: 'ℓ', font: it }, { text: ' + 1)/2', font: rm },
      { text: 'π', font: it }, { text: 'C', font: it }, { text: 'ℓ', font: 'italic 20px "DejaVu Serif"', dy: 8 },
      { text: '  [', font: rm }, { text: 'μ', font: it }, { text: 'K', font: rm },
      { text: '2', font: '20px "DejaVu Serif"', dy: -11 }, { text: ']', font: rm }
    ], 0, 0);
    ctx.restore();
  }
};

const supMap = { '-': '⁻', '0': '⁰', '1': '¹', '2': '²', '3': '³', '4': '⁴', '5': '⁵' };
function powLabel(v) {
  const e = String(Math.round(Math.log10(v)));
  return '10' + e.split('').map(c => supMap[c]).join('');
}

Chart.defaults.font.family = 'DejaVu Sans';
Chart.defaults.color = '#000';

const uMin = ellToU(2), uMax = ellToU(5000);

new Chart(document.getElementById('cmbChart'), {
  type: 'line',
  data: { datasets },
  options: {
    responsive: false,
    animation: false,
    events: [],
    layout: { padding: { left: 0, right: 25, top: 0, bottom: 0 } },
    plugins: { legend: { display: false }, tooltip: { enabled: false } },
    scales: {
      x: {
        type: 'linear', position: 'bottom', min: uMin, max: uMax,
        grid: { display: false, drawTicks: false }, border: { display: false },
        afterBuildTicks: s => { s.ticks = bottomTickEll.map(l => ({ value: ellToU(l) })); },
        afterFit: s => { s.height = 60; s.paddingLeft = 0; s.paddingRight = 0; },
        ticks: {
          autoSkip: false, maxRotation: 0, minRotation: 0, padding: 7,
          font: { size: 19 }, callback: (v, i) => String(bottomTickEll[i])
        }
      },
      x2: {
        type: 'linear', position: 'top', min: uMin, max: uMax,
        grid: { display: false, drawTicks: false }, border: { display: false },
        afterBuildTicks: s => { s.ticks = topTickTheta.map(t => ({ value: ellToU(180 / t) })); },
        afterFit: s => { s.height = 67; s.paddingLeft = 0; s.paddingRight = 0; },
        ticks: {
          autoSkip: false, maxRotation: 0, minRotation: 0, padding: 8,
          font: { size: 19 }, callback: (v, i) => String(topTickTheta[i])
        }
      },
      y: {
        type: 'logarithmic', position: 'left', min: 5.2e-5, max: 1e4,
        grid: { display: false, drawTicks: false }, border: { display: false },
        afterBuildTicks: s => { s.ticks = yTickVals.map(v => ({ value: v })); },
        afterFit: s => { s.width = 97; s.paddingTop = 0; s.paddingBottom = 0; },
        ticks: { autoSkip: false, padding: 8, font: { size: 20 }, callback: v => powLabel(v) }
      }
    }
  },
  plugins: [regionPlugin, errorBarPlugin, textPlugin, framePlugin]
});
</script>
</body>
</html>
